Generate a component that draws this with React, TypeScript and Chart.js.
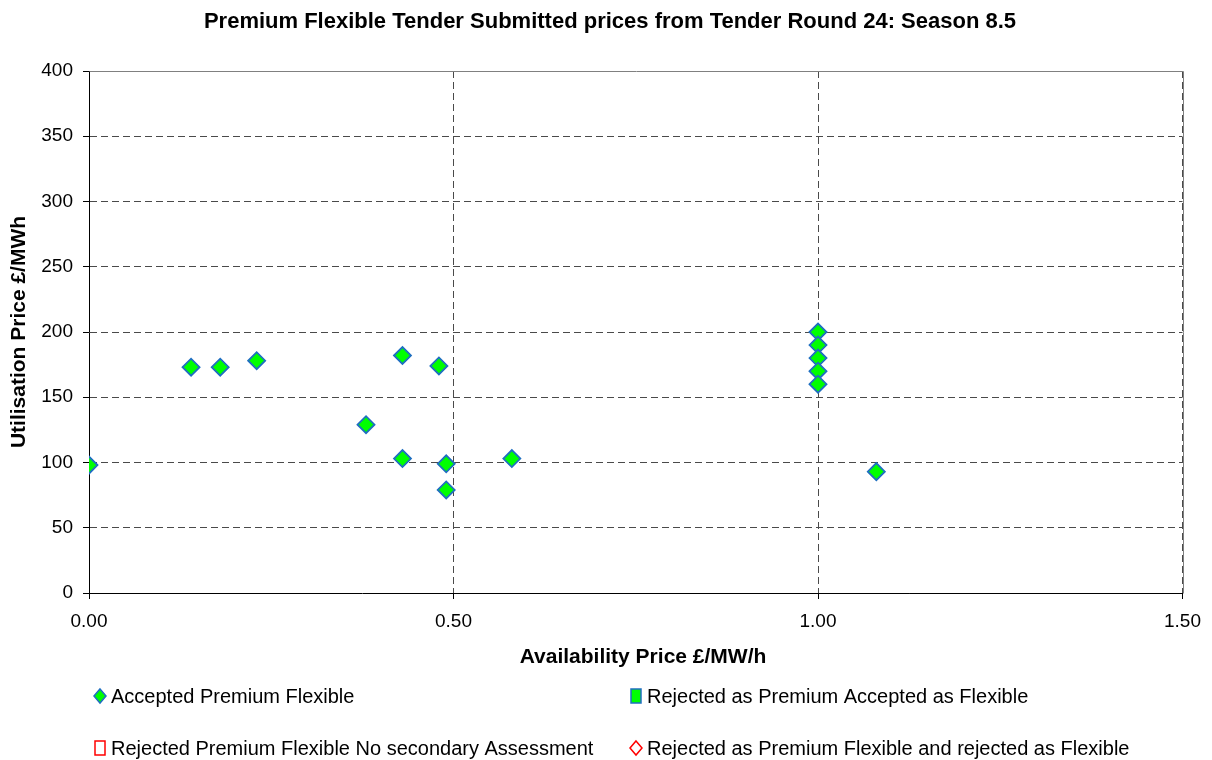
import React, { useEffect, useRef } from "react";
import { Chart, registerables } from "chart.js";

Chart.register(...registerables);

const TITLE = "Premium Flexible Tender Submitted prices from Tender Round 24: Season 8.5";
const X_TITLE = "Availability Price £/MW/h";
const Y_TITLE = "Utilisation Price £/MWh";

const seriesLabels = [
  "Accepted Premium Flexible",
  "Rejected as Premium Accepted as Flexible",
  "Rejected Premium Flexible No secondary Assessment",
  "Rejected as Premium Flexible and rejected as Flexible",
];

// Accepted Premium Flexible
const acceptedX = [0.0, 0.14, 0.18, 0.23, 0.38, 0.43, 0.43, 0.48, 0.49, 0.49, 0.58, 1.0, 1.0, 1.0, 1.0, 1.0, 1.08];
const acceptedY = [98, 173, 173, 178, 129, 182, 103, 174, 99, 79, 103, 200, 190, 180, 170, 160, 93];

// Other series have no points in this round
const rejAccFlexX: number[] = [];
const rejAccFlexY: number[] = [];
const rejNoSecX: number[] = [];
const rejNoSecY: number[] = [];
const rejBothX: number[] = [];
const rejBothY: number[] = [];

const xTicks = [0, 0.5, 1.0, 1.5];
const yTicks = [0, 50, 100, 150, 200, 250, 300, 350, 400];

const FONT = "'Liberation Sans', Arial, sans-serif";

const toPts = (xs: number[], ys: number[]) => xs.map((x, i) => ({ x, y: ys[i] }));

const GREEN = "#00FF00";
const BLUE = "#1f6fc0";
const RED = "#FF0000";

const legendStyles = [
  { shape: "diamond", fill: GREEN, stroke: BLUE },
  { shape: "square", fill: GREEN, stroke: BLUE },
  { shape: "square", fill: "#FFFFFF", stroke: RED },
  { shape: "diamond", fill: "#FFFFFF", stroke: RED },
];

const textPlugin = {
  id: "textAndLegend",
  afterDraw(chart: any) {
    const ctx = chart.ctx;
    const { chartArea } = chart;
    ctx.save();
    // plot border (top and right)
    ctx.strokeStyle = "#808080";
    ctx.lineWidth = 1;
    ctx.beginPath();
    ctx.moveTo(Math.round(chartArea.left) + 0.5, Math.round(chartArea.top) + 0.5);
    ctx.lineTo(Math.round(chartArea.right) + 0.5, Math.round(chartArea.top) + 0.5);
    ctx.lineTo(Math.round(chartArea.right) + 0.5, Math.round(chartArea.bottom) + 0.5);
    ctx.stroke();

    // chart title
    ctx.fillStyle = "#000";
    ctx.textAlign = "center";
    ctx.textBaseline = "middle";
    ctx.font = `bold 22px ${FONT}`;
    ctx.fillText(TITLE, 610, 22);
    // x axis title
    ctx.font = `bold 21px ${FONT}`;
    ctx.fillText(X_TITLE, 643, 657);

    // legend
    const positions = [
      { x: 100, y: 696 },
      { x: 636, y: 696 },
      { x: 100, y: 748 },
      { x: 636, y: 748 },
    ];
    ctx.textAlign = "left";
    ctx.font = `20px ${FONT}`;
    chart.data.datasets.forEach((ds: any, i: number) => {
      const p = positions[i];
      const st = legendStyles[i];
      ctx.lineWidth = 1.5;
      ctx.strokeStyle = st.stroke;
      ctx.fillStyle = st.fill;
      ctx.beginPath();
      if (st.shape === "diamond") {
        ctx.moveTo(p.x, p.y - 7);
        ctx.lineTo(p.x + 6, p.y);
        ctx.lineTo(p.x, p.y + 7);
        ctx.lineTo(p.x - 6, p.y);
        ctx.closePath();
      } else {
        ctx.rect(p.x - 5, p.y - 7, 10, 14);
      }
      ctx.fill();
      ctx.stroke();
      ctx.fillStyle = "#000";
      ctx.fillText(ds.label, p.x + 11, p.y + 1);
    });
    ctx.restore();
  },
};

export default function App() {
  const ref = useRef<HTMLCanvasElement | null>(null);

  useEffect(() => {
    if (!ref.current) return;
    const mk = (label: string, xs: number[], ys: number[], style: string, fill: string, stroke: string) => ({
      label,
      data: toPts(xs, ys),
      pointStyle: style,
      pointRadius: 8.5,
      pointHoverRadius: 8.5,
      pointBackgroundColor: fill,
      pointBorderColor: stroke,
      pointBorderWidth: 1.8,
      backgroundColor: fill,
      borderColor: stroke,
      showLine: false,
    });
    const chart = new Chart(ref.current, {
      type: "scatter",
      data: {
        datasets: [
          mk(seriesLabels[0], acceptedX, acceptedY, "rectRot", GREEN, BLUE),
          mk(seriesLabels[1], rejAccFlexX, rejAccFlexY, "rect", GREEN, BLUE),
          mk(seriesLabels[2], rejNoSecX, rejNoSecY, "rect", "#FFFFFF", RED),
          mk(seriesLabels[3], rejBothX, rejBothY, "rectRot", "#FFFFFF", RED),
        ],
      },
      options: {
        animation: false,
        responsive: false,
        maintainAspectRatio: false,
        layout: { padding: { left: 0, right: 26, top: 71, bottom: 87 } },
        plugins: {
          legend: { display: false },
          tooltip: { enabled: false },
          title: { display: false },
        },
        scales: {
          x: {
            type: "linear",
            min: 0,
            max: 1.5,
            afterBuildTicks: (scale: any) => {
              scale.ticks = xTicks.map((v) => ({ value: v }));
            },
            afterFit: (scale: any) => {
              scale.height = 80;
            },
            ticks: {
              color: "#000",
              font: { family: FONT, size: 19 },
              padding: 11,
              maxRotation: 0,
              callback: (v: any) => Number(v).toFixed(2),
            },
            grid: {
              color: "#4a4a4a",
              lineWidth: 1,
              drawTicks: true,
              tickLength: 6,
              tickColor: "#000",
            },
            border: { display: true, color: "#000", width: 1, dash: [7, 4] },
            title: { display: false, text: X_TITLE },
          },
          y: {
            type: "linear",
            min: 0,
            max: 400,
            afterBuildTicks: (scale: any) => {
              scale.ticks = yTicks.map((v) => ({ value: v }));
            },
            afterFit: (scale: any) => {
              scale.width = 89;
            },
            ticks: {
              color: "#000",
              font: { family: FONT, size: 19 },
              padding: 10,
            },
            grid: {
              color: "#4a4a4a",
              lineWidth: 1,
              drawTicks: true,
              tickLength: 6,
              tickColor: "#000",
            },
            border: { display: true, color: "#000", width: 1, dash: [7, 4] },
            title: {
              display: true,
              text: Y_TITLE,
              color: "#000",
              font: { family: FONT, size: 21, weight: "bold" },
              padding: { top: 6.5, bottom: 0 },
            },
          },
        },
      } as any,
      plugins: [textPlugin],
    });
    return () => chart.destroy();
  }, []);

  return (
    <div style={{ position: "fixed", left: 0, top: 0, width: 1212, height: 760, background: "#fff" }}>
      <canvas ref={ref} width={1212} height={760} style={{ width: 1212, height: 760, display: "block" }} />
    </div>
  );
}
